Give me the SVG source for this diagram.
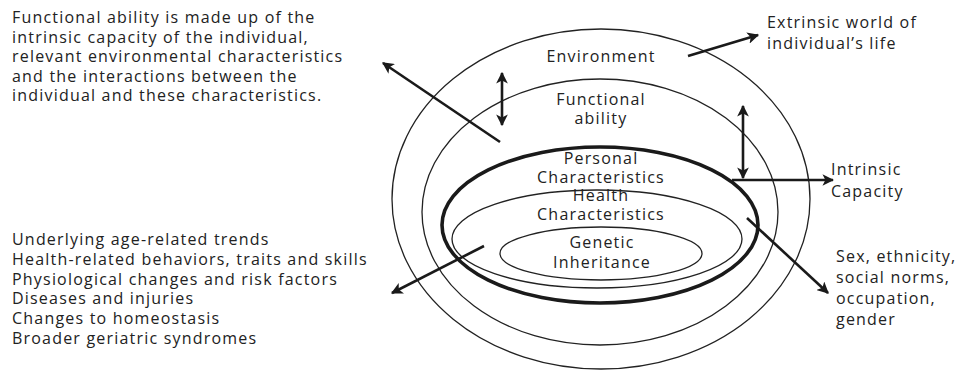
<svg xmlns="http://www.w3.org/2000/svg" width="958" height="371" viewBox="0 0 958 371">
  <style>
    text { font-family: "Open Sans", "Liberation Sans", sans-serif; font-size: 16px; letter-spacing: 1.2px; fill: #222; }
    .c { text-anchor: middle; }
    .thin { fill: none; stroke: #222; stroke-width: 1.3; }
    .thick { fill: none; stroke: #1a1a1a; stroke-width: 3.6; }
    .arr { stroke: #1a1a1a; stroke-width: 2.6; fill: none; }
  </style>
  <defs>
    <marker id="head" viewBox="0 0 10 10" refX="9" refY="5" markerWidth="4.5" markerHeight="4.5" orient="auto-start-reverse">
      <path d="M0,0 L10,5 L0,10 L2.5,5 Z" fill="#1a1a1a"/>
    </marker>
  </defs>

  <rect width="958" height="371" fill="#fff"/>

  <!-- nested layers -->
  <g id="environment">
    <ellipse class="thin" cx="601" cy="199" rx="209" ry="170"/>
    <text class="c" x="601" y="62">Environment</text>
  </g>
  <g id="functional-ability">
    <ellipse class="thin" cx="600" cy="212" rx="178" ry="133"/>
    <text class="c" x="601" y="105">Functional</text>
    <text class="c" x="601" y="124">ability</text>
  </g>
  <g id="personal-characteristics">
    <ellipse class="thick" cx="600" cy="225" rx="158" ry="78"/>
    <text class="c" x="601" y="164">Personal</text>
    <text class="c" x="601" y="183">Characteristics</text>
  </g>
  <g id="health-characteristics">
    <ellipse class="thin" cx="597" cy="239" rx="145" ry="49"/>
    <text class="c" x="601" y="201">Health</text>
    <text class="c" x="601" y="220">Characteristics</text>
  </g>
  <g id="genetic-inheritance">
    <ellipse class="thin" cx="601" cy="253.5" rx="101" ry="26.5"/>
    <text class="c" x="602" y="248">Genetic</text>
    <text class="c" x="602" y="268">Inheritance</text>
  </g>

  <!-- side notes -->
  <g id="note-functional">
    <text x="12" y="23">Functional ability is made up of the</text>
    <text x="12" y="43">intrinsic capacity of the individual,</text>
    <text x="12" y="62">relevant environmental characteristics</text>
    <text x="12" y="82">and the interactions between the</text>
    <text x="12" y="101">individual and these characteristics.</text>
  </g>
  <g id="note-extrinsic">
    <text x="767" y="28">Extrinsic world of</text>
    <text x="767" y="49">individual’s life</text>
  </g>
  <g id="note-intrinsic">
    <text x="831" y="175">Intrinsic</text>
    <text x="831" y="197">Capacity</text>
  </g>
  <g id="note-personal">
    <text x="836" y="262">Sex, ethnicity,</text>
    <text x="836" y="283">social norms,</text>
    <text x="836" y="304">occupation,</text>
    <text x="836" y="325">gender</text>
  </g>
  <g id="note-health">
    <text x="12" y="245">Underlying age-related trends</text>
    <text x="12" y="265">Health-related behaviors, traits and skills</text>
    <text x="12" y="285">Physiological changes and risk factors</text>
    <text x="12" y="304">Diseases and injuries</text>
    <text x="12" y="324">Changes to homeostasis</text>
    <text x="12" y="344">Broader geriatric syndromes</text>
  </g>

  <!-- connectors -->
  <g id="connectors">
    <line class="arr" x1="500" y1="142" x2="383" y2="63" marker-end="url(#head)"/>
    <line class="arr" x1="502" y1="73" x2="502" y2="125" marker-start="url(#head)" marker-end="url(#head)"/>
    <line class="arr" x1="688" y1="56" x2="758" y2="35" marker-end="url(#head)"/>
    <line class="arr" x1="743" y1="106" x2="743" y2="178" marker-start="url(#head)" marker-end="url(#head)"/>
    <line class="arr" x1="732" y1="180" x2="833" y2="180" marker-end="url(#head)"/>
    <line class="arr" x1="484" y1="246" x2="392" y2="293" marker-end="url(#head)"/>
    <line class="arr" x1="747" y1="218" x2="828" y2="293" marker-end="url(#head)"/>
  </g>
</svg>
